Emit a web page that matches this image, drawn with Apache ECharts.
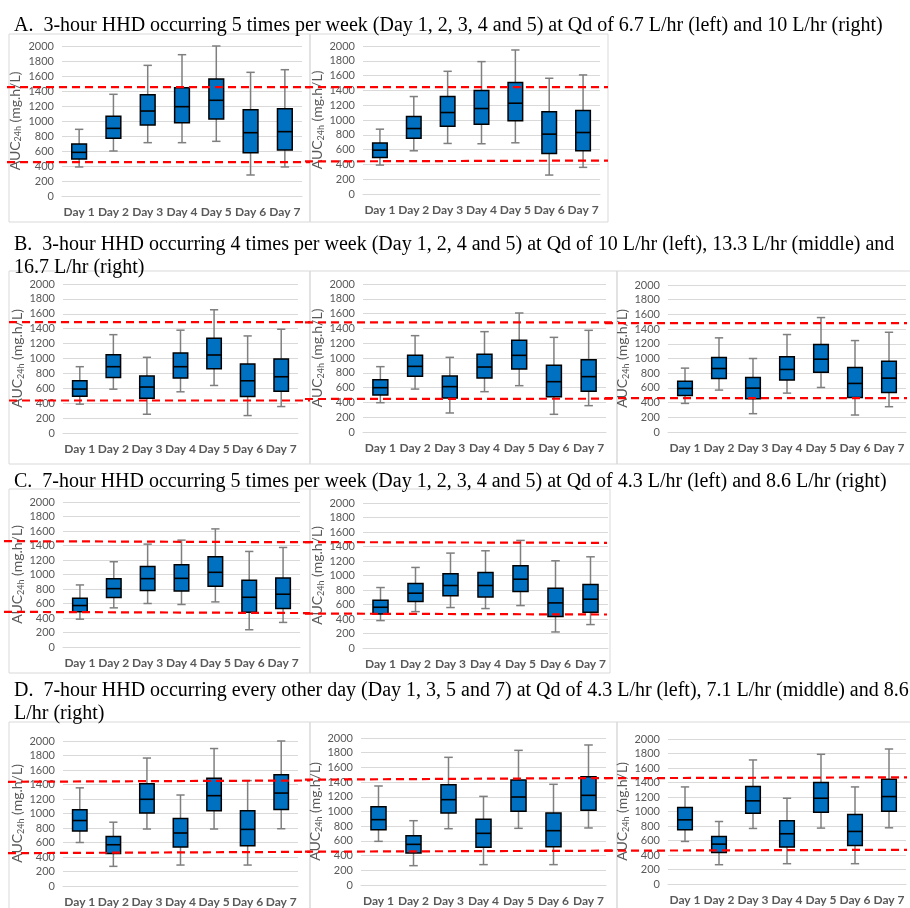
<!DOCTYPE html>
<html><head><meta charset="utf-8">
<script src="https://cdn.jsdelivr.net/npm/echarts@6/dist/echarts.min.js"></script>
<style>html,body{margin:0;padding:0;background:#fff;}#c{width:910px;height:908px;}</style>
</head><body><div id="c"></div>
<script>
// ---------- data ----------
const days = ['Day 1','Day 2','Day 3','Day 4','Day 5','Day 6','Day 7'];
const yMin = 0, yMax = 2000, yStep = 200;
// each row: [min, Q1, median, Q3, max]
const boxA1 = [[387,493,582,693,889],[600,769,902,1062,1356],[711,947,1133,1351,1742],[711,978,1191,1444,1884],[729,1027,1276,1560,2000],[280,578,844,1151,1649],[387,613,858,1164,1684]];
const boxA2 = [[391,494,593,688,876],[584,755,885,1047,1317],[683,917,1101,1317,1658],[679,944,1155,1398,1789],[692,989,1227,1506,1946],[256,548,809,1110,1564],[360,584,831,1128,1609]];
const boxB1 = [[387,494,590,700,890],[588,746,890,1052,1320],[252,465,617,764,1016],[553,737,890,1074,1380],[638,863,1047,1272,1654],[234,490,701,926,1303],[355,562,755,993,1393]];
const boxB2 = [[396,500,599,707,883],[580,752,887,1036,1302],[257,459,613,757,1009],[545,730,878,1050,1356],[626,851,1036,1239,1608],[239,477,680,901,1279],[356,550,748,977,1374]];
const boxB3 = [[389,498,593,692,869],[570,729,864,1014,1281],[249,452,597,742,1000],[529,706,851,1023,1326],[606,814,991,1190,1557],[231,471,661,878,1244],[344,538,733,964,1357]];
const boxC1 = [[384,485,572,673,856],[540,682,805,943,1176],[600,778,943,1112,1419],[586,773,947,1135,1474],[622,838,1030,1245,1629],[238,481,686,920,1318],[339,531,728,952,1373]];
const boxC2 = [[378,470,562,659,834],[502,641,756,889,1111],[558,719,862,1023,1309],[544,705,862,1041,1341],[585,779,949,1134,1484],[221,433,622,825,1203],[323,493,673,876,1258]];
const boxD1 = [[600,758,903,1052,1354],[271,447,569,682,880],[786,1007,1196,1409,1765],[289,537,731,930,1255],[786,1038,1246,1485,1896],[289,555,781,1038,1454],[790,1056,1282,1535,2000]];
const boxD2 = [[594,753,889,1066,1347],[263,435,553,671,875],[766,980,1161,1365,1737],[277,512,703,893,1206],[771,1002,1197,1429,1832],[277,522,739,980,1370],[776,1016,1220,1474,1905]];
const boxD3 = [[587,748,885,1055,1339],[266,436,550,656,862],[766,977,1147,1344,1711],[280,509,693,872,1183],[771,991,1183,1399,1789],[280,532,725,959,1339],[775,1005,1206,1445,1862]];
// threshold lines: [lower at left, lower at right], [upper at left, upper at right]
const limA1 = [[453,453],[1453,1453]];
const limA2 = [[440,452],[1443,1443]];
const limB1 = [[436,436],[1488,1488]];
const limB2 = [[446,450],[1482,1482]];
const limB3 = [[462,462],[1480,1480]];
const limC1 = [[485,468],[1460,1445]];
const limC2 = [[475,462],[1461,1450]];
const limD1 = [[474,492],[1445,1463]];
const limD2 = [[453,467],[1433,1456]];
const limD3 = [[459,472],[1459,1472]];
const titleA = 'A.  3-hour HHD occurring 5 times per week (Day 1, 2, 3, 4 and 5) at Qd of 6.7 L/hr (left) and 10 L/hr (right)';
const titleB = 'B.  3-hour HHD occurring 4 times per week (Day 1, 2, 4 and 5) at Qd of 10 L/hr (left), 13.3 L/hr (middle) and\n16.7 L/hr (right)';
const titleC = 'C.  7-hour HHD occurring 5 times per week (Day 1, 2, 3, 4 and 5) at Qd of 4.3 L/hr (left) and 8.6 L/hr (right)';
const titleD = 'D.  7-hour HHD occurring every other day (Day 1, 3, 5 and 7) at Qd of 4.3 L/hr (left), 7.1 L/hr (middle) and 8.6\nL/hr (right)';

// ---------- layout ----------
// plot: [left, top, width, height]; line: [left, right]; frame: [x, y, w, h]; nameGap
const panels = [
  {box: boxA1, lim: limA1, plot:[62,46,240,150],  line:[7,310],   frame:[9,34,301,188],  gap:39},
  {box: boxA2, lim: limA2, plot:[363,46,237,148], line:[305,608], frame:[310,34,298,188], gap:35},
  {box: boxB1, lim: limB1, plot:[63,284,235,149], line:[9,310],   frame:[9,271,301,193], gap:37},
  {box: boxB2, lim: limB2, plot:[363,284,243,148],line:[305,612], frame:[310,271,307,193], gap:35},
  {box: boxB3, lim: limB3, plot:[668,285,238,147],line:[605,907], frame:[617,271,300,193], gap:33},
  {box: boxC1, lim: limC1, plot:[63,502,237,145], line:[4,310],   frame:[9,489,301,184], gap:37},
  {box: boxC2, lim: limC2, plot:[363,503,245,145],line:[305,607], frame:[310,489,300,184], gap:33},
  {box: boxD1, lim: limD1, plot:[63,741,235,147], line:[8,310],   frame:[9,722,301,200], gap:37},
  {box: boxD2, lim: limD2, plot:[361,738,245,147],line:[305,612], frame:[310,722,307,200], gap:31},
  {box: boxD3, lim: limD3, plot:[668,739,238,145],line:[605,907], frame:[617,722,300,200], gap:32}
];

const gray = '#595959';
const FONT = 'Lato';

function renderBox(params, api) {
  const i = api.value(0);
  const pts = [1,2,3,4,5].map(k => api.coord([i, api.value(k)]));
  const cx = pts[0][0];
  const band = api.size([1, 0])[0];
  const bw = band * 0.43, cw = bw * 0.57;
  const [pMin, pQ1, pMed, pQ3, pMax] = pts;
  const ws = {stroke: '#7f7f7f', lineWidth: 1.5};
  return {type: 'group', children: [
    {type:'line', shape:{x1:cx,y1:pMax[1],x2:cx,y2:pQ3[1]}, style:ws},
    {type:'line', shape:{x1:cx,y1:pQ1[1],x2:cx,y2:pMin[1]}, style:ws},
    {type:'line', shape:{x1:cx-cw/2,y1:pMax[1],x2:cx+cw/2,y2:pMax[1]}, style:ws},
    {type:'line', shape:{x1:cx-cw/2,y1:pMin[1],x2:cx+cw/2,y2:pMin[1]}, style:ws},
    {type:'rect', shape:{x:cx-bw/2,y:pQ3[1],width:bw,height:pQ1[1]-pQ3[1]}, style:{fill:'#0070C0',stroke:'#000',lineWidth:1.5}},
    {type:'line', shape:{x1:cx-bw/2,y1:pMed[1],x2:cx+bw/2,y2:pMed[1]}, style:{stroke:'#000',lineWidth:1.6}}
  ]};
}

const grid = [], xAxis = [], yAxis = [], series = [], graphic = [];
panels.forEach((p, k) => {
  const gi = grid.length;
  grid.push({left:p.plot[0], top:p.plot[1], width:p.plot[2], height:p.plot[3]});
  xAxis.push({type:'category', gridIndex:gi, data:days,
    axisLine:{show:true, lineStyle:{color:'#d9d9d9'}}, axisTick:{show:false},
    axisLabel:{interval:0, margin:10, color:gray, fontFamily:FONT, fontWeight:'bold', fontSize:12}});
  yAxis.push({type:'value', gridIndex:gi, min:yMin, max:yMax, interval:yStep,
    axisLine:{show:false}, axisTick:{show:false},
    axisLabel:{margin:8, color:gray, fontFamily:FONT, fontSize:11, formatter: v => String(v)},
    splitLine:{lineStyle:{color:'#d9d9d9', width:1}},
    name:'{a|AUC}{s|24h}{a| (mg.h/L)}', nameLocation:'middle', nameRotate:90, nameGap:p.gap,
    nameTextStyle:{color:gray, fontFamily:FONT, fontSize:14,
      rich:{a:{fontSize:14, fontFamily:FONT, color:gray}, s:{fontSize:9, fontFamily:FONT, color:gray, padding:[7,0,0,0]}}}});
  series.push({type:'custom', xAxisIndex:gi, yAxisIndex:gi, renderItem:renderBox, z:3,
    encode:{x:0, y:[1,2,3,4,5]},
    data:p.box.map((b, i) => [i].concat(b))});
  // overlay grid for threshold lines
  const oi = grid.length;
  grid.push({left:p.line[0], top:p.plot[1], width:p.line[1]-p.line[0], height:p.plot[3]});
  xAxis.push({type:'value', gridIndex:oi, min:0, max:1, show:false});
  yAxis.push({type:'value', gridIndex:oi, min:yMin, max:yMax, show:false});
  p.lim.forEach(l => {
    series.push({type:'line', xAxisIndex:oi, yAxisIndex:oi, symbol:'none', silent:true, z:5,
      lineStyle:{color:'#ff0000', width:2.2, type:[8,5]},
      data:[[0, l[0]], [1, l[1]]]});
  });
  graphic.push({type:'rect', shape:{x:p.frame[0], y:p.frame[1], width:p.frame[2], height:p.frame[3]},
    style:{fill:'none', stroke:'#d9d9d9', lineWidth:1}, z:-1, silent:true});
});

const tStyle = {fontFamily:'Liberation Serif', fontSize:20, fontWeight:'normal', color:'#000', lineHeight:23};
const title = [
  {text:titleA, left:9, top:9, textStyle:tStyle},
  {text:titleB, left:9, top:228, textStyle:tStyle},
  {text:titleC, left:9, top:465, textStyle:tStyle},
  {text:titleD, left:9, top:674, textStyle:tStyle}
];

const chart = echarts.init(document.getElementById('c'), null, {renderer:'canvas'});
chart.setOption({animation:false, backgroundColor:'#fff', title, grid, xAxis, yAxis, series, graphic});
</script></body></html>
